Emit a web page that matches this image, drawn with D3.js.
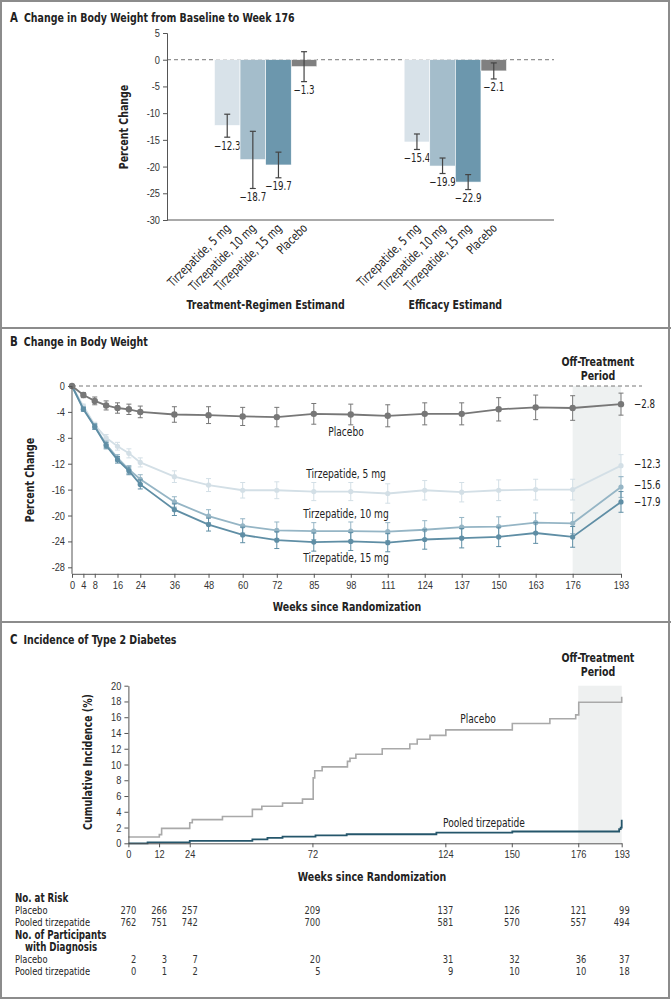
<!DOCTYPE html>
<html>
<head>
<meta charset="utf-8">
<script src="https://cdn.jsdelivr.net/npm/d3@7"></script>
<style>
  body { margin: 0; background: #fff; }
  svg { font-family: "Liberation Sans Narrow", "DejaVu Sans Condensed", "Liberation Sans", sans-serif; }
</style>
</head>
<body>
<div id="chart"></div>
<script>
// ---- panel A data
var estimands = ['Treatment-Regimen Estimand', 'Efficacy Estimand'];
var arms = ['Tirzepatide, 5 mg', 'Tirzepatide, 10 mg', 'Tirzepatide, 15 mg', 'Placebo'];
var armColors = ['#d8e2e9', '#a4bdcb', '#6c97ad', '#808080'];
var regimenValues = [-12.3, -18.7, -19.7, -1.3];
var regimenLow = [-14.5, -24.1, -22.1, -4.1];
var regimenHigh = [-10.2, -13.4, -17.3, 1.5];
var efficacyValues = [-15.4, -19.9, -22.9, -2.1];
var efficacyLow = [-16.8, -21.3, -24.3, -3.6];
var efficacyHigh = [-13.9, -18.4, -21.5, -0.6];
var aTicks = [5, 0, -5, -10, -15, -20, -25, -30];

// ---- panel B data
var weeksB = [0, 4, 8, 12, 16, 20, 24, 36, 48, 60, 72, 85, 98, 111, 124, 137, 150, 163, 176, 193];
var bTickWeeks = [0, 4, 8, 16, 24, 36, 48, 60, 72, 85, 98, 111, 124, 137, 150, 163, 176, 193];
var placeboB = [0, -1.4, -2.3, -3.0, -3.4, -3.6, -4.0, -4.4, -4.5, -4.7, -4.8, -4.3, -4.4, -4.6, -4.3, -4.3, -3.6, -3.3, -3.4, -2.8];
var placeboErr = [0, 0.4, 0.6, 0.7, 0.8, 0.8, 0.9, 1.2, 1.3, 1.4, 1.5, 1.6, 1.6, 1.7, 1.7, 1.7, 1.8, 1.9, 1.9, 1.7];
var tirz5B = [0, -3.1, -6.0, -8.0, -9.3, -10.4, -11.8, -14.0, -15.3, -16.1, -16.1, -16.3, -16.3, -16.6, -16.1, -16.4, -16.1, -16.0, -16.0, -12.3];
var tirz5Err = [0, 0.3, 0.4, 0.5, 0.6, 0.7, 0.7, 0.9, 1.0, 1.2, 1.3, 1.4, 1.4, 1.5, 1.5, 1.5, 1.6, 1.6, 1.6, 1.7];
var tirz10B = [0, -3.5, -6.2, -9.0, -11.1, -12.9, -14.4, -17.9, -20.1, -21.6, -22.3, -22.4, -22.4, -22.5, -22.2, -21.8, -21.7, -21.1, -21.2, -15.6];
var tirz10Err = [0, 0.3, 0.4, 0.5, 0.5, 0.6, 0.7, 0.8, 1.0, 1.1, 1.3, 1.3, 1.4, 1.4, 1.4, 1.5, 1.5, 1.5, 1.6, 1.6];
var tirz15B = [0, -3.6, -6.3, -9.2, -11.4, -13.1, -15.2, -19.1, -21.4, -23.0, -23.8, -24.1, -24.0, -24.2, -23.7, -23.5, -23.3, -22.7, -23.3, -17.9];
var tirz15Err = [0, 0.3, 0.4, 0.5, 0.5, 0.6, 0.7, 0.9, 1.0, 1.2, 1.3, 1.4, 1.4, 1.4, 1.5, 1.5, 1.5, 1.6, 1.6, 1.6];
var bTicksY = [0, -4, -8, -12, -16, -20, -24, -28];

// ---- panel C data
var placeboStepWeeks = [0, 12.1, 13, 24, 25, 36.8, 48.5, 52.2, 60.3, 68.1, 72.3, 72.9, 75.8, 85.7, 86.7, 89, 99.3, 110.1, 113, 118, 124.2, 150.2, 164.9, 175, 176.2, 193];
var placeboStepInc = [0.8, 1.1, 1.9, 2.6, 3.0, 3.4, 4.3, 4.7, 5.1, 5.6, 8.3, 9.2, 9.7, 10.4, 10.8, 11.3, 12.0, 12.6, 13.2, 13.7, 14.4, 15.2, 15.8, 16.3, 17.9, 18.6];
var tirzStepWeeks = [0, 7.5, 24, 48.5, 54.4, 60.3, 73.2, 85.4, 120.5, 150.2, 192, 192.6, 193];
var tirzStepInc = [0, 0.13, 0.3, 0.5, 0.7, 0.85, 1.0, 1.15, 1.35, 1.5, 1.8, 2.0, 3.0];
var cTickWeeks = [0, 12, 24, 72, 124, 150, 176, 193];
var cTicksY = [0, 2, 4, 6, 8, 10, 12, 14, 16, 18, 20];

// ---- risk table
var riskPlacebo = [270, 266, 257, 209, 137, 126, 121, 99];
var riskTirz = [762, 751, 742, 700, 581, 570, 557, 494];
var diagPlacebo = [2, 3, 7, 20, 31, 32, 36, 37];
var diagTirz = [0, 1, 2, 5, 9, 10, 10, 18];

var ink = '#222';
var axisColor = '#555';

var svg = d3.select('#chart')
  .append('svg')
  .attr('width', 671)
  .attr('height', 1000);

// frame and panel separators
svg.append('rect')
  .attr('x', 1).attr('y', 1)
  .attr('width', 668).attr('height', 997)
  .attr('fill', 'none')
  .attr('stroke', '#8c8c8c')
  .attr('stroke-width', 2);
[328, 622].forEach(function(y) {
  svg.append('line')
    .attr('x1', 0).attr('x2', 671)
    .attr('y1', y).attr('y2', y)
    .attr('stroke', '#8c8c8c')
    .attr('stroke-width', 2);
});

function panelTitle(letter, text, y) {
  var t = svg.append('text')
    .attr('x', 10)
    .attr('y', y)
    .attr('fill', ink)
    .style('font-size', '12.5px')
    .style('font-weight', 'bold');
  t.append('tspan').style('font-size', '13.5px').text(letter);
  t.append('tspan').attr('dx', 6).text(text);
}

function fmt(v) {
  return v < 0 ? '\u2212' + Math.abs(v) : String(v);
}

function tickFmt(v) {
  return v < 0 ? '-' + Math.abs(v) : String(v);
}

function styleAxis(g) {
  g.selectAll('path, line').attr('stroke', axisColor);
  g.selectAll('text').style('font-size', '11px').attr('fill', '#333');
}

// ================= Panel A =================
panelTitle('A', 'Change in Body Weight from Baseline to Week 176', 22);

var aLeft = 167, aRight = 554;
var yA = d3.scaleLinear().domain([5, -30]).range([33, 220]);
var groupX = d3.scaleBand().domain(estimands).range([aLeft, aRight])
  .paddingInner(0.46).paddingOuter(0.25);
var armX = d3.scaleBand().domain(arms).range([0, groupX.bandwidth()]);

var gA = svg.append('g');

gA.append('line')
  .attr('x1', aLeft).attr('x2', aRight)
  .attr('y1', yA(0)).attr('y2', yA(0))
  .attr('stroke', '#777')
  .attr('stroke-dasharray', '4,3');

var barData = [];
arms.forEach(function(a, i) {
  barData.push({group: estimands[0], arm: a, i: i, v: regimenValues[i], lo: regimenLow[i], hi: regimenHigh[i]});
  barData.push({group: estimands[1], arm: a, i: i, v: efficacyValues[i], lo: efficacyLow[i], hi: efficacyHigh[i]});
});

var bars = gA.selectAll('.bar')
  .data(barData)
  .enter()
  .append('g')
  .attr('class', 'bar')
  .attr('transform', function(d) {
    return 'translate(' + (groupX(d.group) + armX(d.arm)) + ',0)';
  });

bars.append('rect')
  .attr('x', 0)
  .attr('y', yA(0))
  .attr('width', armX.bandwidth())
  .attr('height', function(d) { return yA(d.v) - yA(0); })
  .attr('fill', function(d) { return armColors[d.i]; })
  .attr('stroke', '#fff')
  .attr('stroke-width', 0.6);

var bw = armX.bandwidth();
bars.append('line')
  .attr('x1', bw / 2).attr('x2', bw / 2)
  .attr('y1', function(d) { return yA(d.hi); })
  .attr('y2', function(d) { return yA(d.lo); })
  .attr('stroke', '#444').attr('stroke-width', 1.2);
bars.selectAll('.cap')
  .data(function(d) { return [d.hi, d.lo]; })
  .enter()
  .append('line')
  .attr('x1', bw / 2 - 3).attr('x2', bw / 2 + 3)
  .attr('y1', function(v) { return yA(v); })
  .attr('y2', function(v) { return yA(v); })
  .attr('stroke', '#444').attr('stroke-width', 1.2);

bars.append('text')
  .attr('x', bw / 2)
  .attr('y', function(d) { return yA(d.lo) + 12.5; })
  .attr('text-anchor', 'middle')
  .attr('fill', ink)
  .style('font-size', '11.5px')
  .text(function(d) { return fmt(d.v); });

bars.append('text')
  .attr('transform', 'translate(' + (bw / 2 + 4) + ',' + (yA(-30) + 9) + ') rotate(-45)')
  .attr('text-anchor', 'end')
  .attr('fill', ink)
  .style('font-size', '12.5px')
  .text(function(d) { return d.arm; });

var axA = gA.append('g')
  .attr('transform', 'translate(' + aLeft + ',0)')
  .call(d3.axisLeft(yA).tickValues(aTicks).tickSize(4).tickFormat(tickFmt));
styleAxis(axA);
gA.append('line')
  .attr('x1', aLeft).attr('x2', aRight)
  .attr('y1', yA(-30)).attr('y2', yA(-30))
  .attr('stroke', axisColor);

gA.append('text')
  .attr('transform', 'translate(128,127) rotate(-90)')
  .attr('text-anchor', 'middle')
  .attr('fill', ink)
  .style('font-size', '12.5px').style('font-weight', 'bold')
  .text('Percent Change');

gA.selectAll('.grp')
  .data(estimands)
  .enter()
  .append('text')
  .attr('x', function(d) { return groupX(d) + groupX.bandwidth() / 2; })
  .attr('y', 309)
  .attr('text-anchor', 'middle')
  .attr('fill', ink)
  .style('font-size', '12.5px').style('font-weight', 'bold')
  .text(function(d) { return d; });

// ================= Panel B =================
panelTitle('B', 'Change in Body Weight', 346);

var xB = d3.scaleLinear().domain([0, 193]).range([72, 621]);
var yB = d3.scaleLinear().domain([0, -29]).range([386, 573.8]);
var gB = svg.append('g');

gB.append('rect')
  .attr('x', xB(176)).attr('y', yB(0))
  .attr('width', xB(193) - xB(176))
  .attr('height', yB(-29) - yB(0))
  .attr('fill', '#eef1f1');

gB.append('line')
  .attr('x1', xB(0)).attr('x2', 642)
  .attr('y1', yB(0)).attr('y2', yB(0))
  .attr('stroke', '#777')
  .attr('stroke-dasharray', '4,3');

var seriesB = [
  {name: 'Tirzepatide, 5 mg', v: tirz5B, e: tirz5Err, color: '#d3dfe6', r: 2.6},
  {name: 'Tirzepatide, 10 mg', v: tirz10B, e: tirz10Err, color: '#95b5c5', r: 2.6},
  {name: 'Tirzepatide, 15 mg', v: tirz15B, e: tirz15Err, color: '#5f8ea5', r: 2.6},
  {name: 'Placebo', v: placeboB, e: placeboErr, color: '#777777', r: 3.2}
];

var lineB = d3.line()
  .x(function(d) { return xB(d.w); })
  .y(function(d) { return yB(d.v); });

seriesB.forEach(function(s) {
  var pts = weeksB.map(function(w, i) { return {w: w, v: s.v[i], e: s.e[i]}; });
  var g = gB.append('g');
  g.append('path')
    .datum(pts)
    .attr('d', lineB)
    .attr('fill', 'none')
    .attr('stroke', s.color)
    .attr('stroke-width', 1.8);
  var eb = g.selectAll('.eb')
    .data(pts.filter(function(d) { return d.e > 0; }))
    .enter()
    .append('g')
    .attr('stroke', s.color)
    .attr('stroke-width', 1);
  eb.append('line')
    .attr('x1', function(d) { return xB(d.w); })
    .attr('x2', function(d) { return xB(d.w); })
    .attr('y1', function(d) { return yB(d.v + d.e); })
    .attr('y2', function(d) { return yB(d.v - d.e); });
  eb.selectAll('.cap')
    .data(function(d) { return [{w: d.w, y: d.v + d.e}, {w: d.w, y: d.v - d.e}]; })
    .enter()
    .append('line')
    .attr('x1', function(d) { return xB(d.w) - 2.5; })
    .attr('x2', function(d) { return xB(d.w) + 2.5; })
    .attr('y1', function(d) { return yB(d.y); })
    .attr('y2', function(d) { return yB(d.y); });
  g.selectAll('circle')
    .data(pts)
    .enter()
    .append('circle')
    .attr('cx', function(d) { return xB(d.w); })
    .attr('cy', function(d) { return yB(d.v); })
    .attr('r', s.r)
    .attr('fill', s.color);
});

var axBy = gB.append('g')
  .attr('transform', 'translate(' + xB(0) + ',0)')
  .call(d3.axisLeft(yB).tickValues(bTicksY).tickSize(4).tickFormat(tickFmt));
axBy.select('.domain').attr('d', 'M0,' + yB(0) + 'V' + yB(-29));
styleAxis(axBy);

var axBx = gB.append('g')
  .attr('transform', 'translate(0,' + yB(-29) + ')')
  .call(d3.axisBottom(xB).tickValues(bTickWeeks).tickSize(4).tickSizeOuter(0));
styleAxis(axBx);

gB.append('text')
  .attr('transform', 'translate(34,480) rotate(-90)')
  .attr('text-anchor', 'middle')
  .attr('fill', ink)
  .style('font-size', '12.5px').style('font-weight', 'bold')
  .text('Percent Change');

gB.append('text')
  .attr('x', 347).attr('y', 611)
  .attr('text-anchor', 'middle')
  .attr('fill', ink)
  .style('font-size', '12.5px').style('font-weight', 'bold')
  .text('Weeks since Randomization');

var bLabels = [
  {t: 'Placebo', y: 436},
  {t: 'Tirzepatide, 5 mg', y: 478},
  {t: 'Tirzepatide, 10 mg', y: 518},
  {t: 'Tirzepatide, 15 mg', y: 562}
];
gB.selectAll('.slab')
  .data(bLabels)
  .enter()
  .append('text')
  .attr('x', 346).attr('y', function(d) { return d.y; })
  .attr('text-anchor', 'middle')
  .attr('fill', ink)
  .style('font-size', '12px')
  .text(function(d) { return d.t; });

var endVals = [placeboB[19], tirz5B[19], tirz10B[19], tirz15B[19]];
var endY = [408, 468, 489, 506];
gB.selectAll('.endlab')
  .data(endVals)
  .enter()
  .append('text')
  .attr('x', 634)
  .attr('y', function(d, i) { return endY[i]; })
  .attr('fill', ink)
  .style('font-size', '11.5px')
  .text(function(d) { return fmt(d); });

function offTreatment(g, x, y) {
  var t = g.append('text')
    .attr('text-anchor', 'middle')
    .attr('fill', ink)
    .style('font-size', '12.5px').style('font-weight', 'bold');
  t.append('tspan').attr('x', x).attr('y', y).text('Off-Treatment');
  t.append('tspan').attr('x', x).attr('y', y + 14).text('Period');
}
offTreatment(gB, 598, 366);

// ================= Panel C =================
panelTitle('C', 'Incidence of Type 2 Diabetes', 644);

var xC = d3.scaleLinear().domain([0, 193]).range([128.4, 621.7]);
var yC = d3.scaleLinear().domain([0, 20]).range([843.3, 685.7]);
var gC = svg.append('g');

gC.append('rect')
  .attr('x', xC(176)).attr('y', yC(20))
  .attr('width', xC(193) - xC(176))
  .attr('height', yC(0) - yC(20))
  .attr('fill', '#eef0f0');

var stepLine = d3.line()
  .curve(d3.curveStepAfter)
  .x(function(d) { return xC(d[0]); })
  .y(function(d) { return yC(d[1]); });

gC.append('path')
  .datum(d3.zip(placeboStepWeeks, placeboStepInc))
  .attr('d', stepLine)
  .attr('fill', 'none')
  .attr('stroke', '#a9a9a9')
  .attr('stroke-width', 1.6);

gC.append('path')
  .datum(d3.zip(tirzStepWeeks, tirzStepInc))
  .attr('d', stepLine)
  .attr('fill', 'none')
  .attr('stroke', '#25566b')
  .attr('stroke-width', 1.8);

var axCy = gC.append('g')
  .attr('transform', 'translate(' + xC(0) + ',0)')
  .call(d3.axisLeft(yC).tickValues(cTicksY).tickSize(4).tickSizeOuter(0));
styleAxis(axCy);
var axCx = gC.append('g')
  .attr('transform', 'translate(0,' + yC(0) + ')')
  .call(d3.axisBottom(xC).tickValues(cTickWeeks).tickSize(4).tickSizeOuter(0));
styleAxis(axCx);

gC.append('text')
  .attr('transform', 'translate(92,762) rotate(-90)')
  .attr('text-anchor', 'middle')
  .attr('fill', ink)
  .style('font-size', '12.5px').style('font-weight', 'bold')
  .text('Cumulative Incidence (%)');

gC.append('text')
  .attr('x', 372).attr('y', 881)
  .attr('text-anchor', 'middle')
  .attr('fill', ink)
  .style('font-size', '12.5px').style('font-weight', 'bold')
  .text('Weeks since Randomization');

gC.append('text')
  .attr('x', 478).attr('y', 723)
  .attr('text-anchor', 'middle')
  .attr('fill', ink)
  .style('font-size', '12px')
  .text('Placebo');
gC.append('text')
  .attr('x', 484).attr('y', 826.5)
  .attr('text-anchor', 'middle')
  .attr('fill', ink)
  .style('font-size', '12px')
  .text('Pooled tirzepatide');

offTreatment(gC, 598, 662);

// ---- risk table
var rows = [
  {label: 'No. at Risk', bold: true, y: 901.5},
  {label: 'Placebo', vals: riskPlacebo, y: 914},
  {label: 'Pooled tirzepatide', vals: riskTirz, y: 926},
  {label: 'No. of Participants', bold: true, y: 938.5},
  {label: 'with Diagnosis', bold: true, y: 951, indent: 10},
  {label: 'Placebo', vals: diagPlacebo, y: 963},
  {label: 'Pooled tirzepatide', vals: diagTirz, y: 975}
];
var gT = svg.append('g');
rows.forEach(function(r) {
  gT.append('text')
    .attr('x', 15 + (r.indent || 0))
    .attr('y', r.y)
    .attr('fill', ink)
    .style('font-size', r.bold ? '11.5px' : '11px')
    .style('font-weight', r.bold ? 'bold' : 'normal')
    .text(r.label);
  if (r.vals) {
    gT.selectAll(null)
      .data(r.vals)
      .enter()
      .append('text')
      .attr('x', function(d, i) { return xC(cTickWeeks[i]) + 8; })
      .attr('y', r.y)
      .attr('text-anchor', 'end')
      .attr('fill', '#333')
      .style('font-size', '11px')
      .text(function(d) { return d; });
  }
});

// the original uses a narrow face: squeeze every run of text horizontally
var squeeze = 0.84;
svg.selectAll('text').each(function() {
  var spans = d3.select(this).selectAll('tspan');
  var nodes = spans.empty() ? [this] : spans.nodes();
  nodes.forEach(function(n) {
    var len = n.getComputedTextLength();
    d3.select(n)
      .attr('textLength', len * squeeze)
      .attr('lengthAdjust', 'spacingAndGlyphs');
  });
});
</script>
</body>
</html>
